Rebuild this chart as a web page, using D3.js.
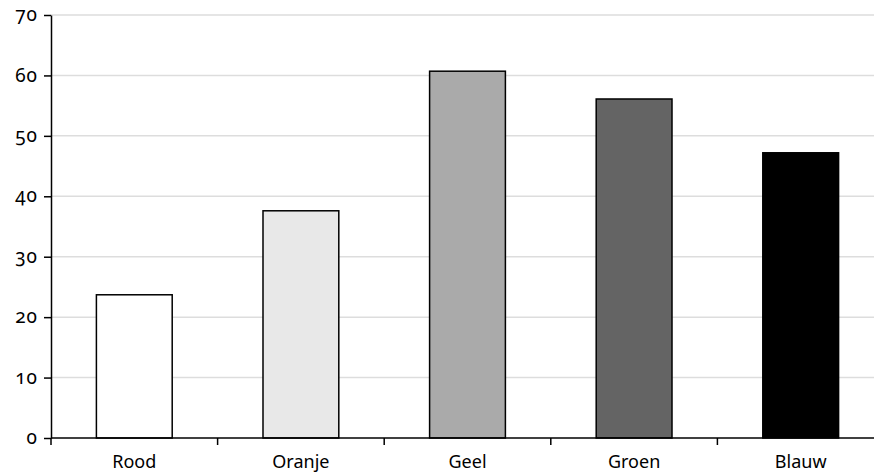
<!DOCTYPE html>
<html>
<head>
<meta charset="utf-8">
<script src="https://cdn.jsdelivr.net/npm/d3@7"></script>
<style>
  body { margin: 0; background: #fff; }
  svg text { font-family: "Noto Sans", "Open Sans", sans-serif; font-size: 18px; fill: #000; font-variant-numeric: oldstyle-nums; font-feature-settings: "onum"; }
</style>
</head>
<body>
<div id="chart"></div>
<script>
var categories = ["Rood", "Oranje", "Geel", "Groen", "Blauw"];
var values = [23.7, 37.6, 60.7, 56.1, 47.2];
var fills = ["#ffffff", "#e8e8e8", "#aaaaaa", "#646464", "#000000"];
var yTicks = [0, 10, 20, 30, 40, 50, 60, 70];

var margin = { top: 15, right: 0, bottom: 35, left: 51 };
var width = 833, height = 423;

var svg = d3
  .select("#chart")
  .append("svg")
  .attr("width", 874)
  .attr("height", 473)
  .append("g")
  .attr("transform", "translate(" + margin.left + "," + margin.top + ")");

var x = d3.scaleBand().domain(categories).range([0, width]).paddingInner(0.545).paddingOuter(0.2725);
var xAxisScale = d3.scaleBand().domain(categories).range([0, width]);
var y = d3.scaleLinear().domain([0, 70]).range([height, 0]);

// gridlines
svg.selectAll(".grid")
  .data(yTicks.slice(1))
  .enter()
  .append("line")
  .attr("x1", 0)
  .attr("x2", width)
  .attr("y1", function(d) { return y(d); })
  .attr("y2", function(d) { return y(d); })
  .attr("stroke", "#dddddd")
  .attr("stroke-width", 1.5);

// bars
svg.selectAll(".bar")
  .data(values)
  .enter()
  .append("rect")
  .attr("x", function(d, i) { return x(categories[i]); })
  .attr("width", x.bandwidth())
  .attr("y", function(d) { return y(d); })
  .attr("height", function(d) { return height - y(d); })
  .attr("fill", function(d, i) { return fills[i]; })
  .attr("stroke", "#000")
  .attr("stroke-width", 1.5);

// x axis: ticks at band edges
var xg = svg.append("g").attr("transform", "translate(0," + height + ")");
xg.append("line").attr("x1", 0).attr("x2", width).attr("stroke", "#000").attr("stroke-width", 1.5);
xg.selectAll(".xtick")
  .data(categories)
  .enter()
  .append("line")
  .attr("x1", function(d) { return xAxisScale(d); })
  .attr("x2", function(d) { return xAxisScale(d); })
  .attr("y1", 0)
  .attr("y2", 7)
  .attr("stroke", "#000")
  .attr("stroke-width", 1.5);
xg.selectAll(".xlabel")
  .data(categories)
  .enter()
  .append("text")
  .attr("x", function(d) { return xAxisScale(d) + xAxisScale.bandwidth() / 2; })
  .attr("y", 30)
  .attr("text-anchor", "middle")
  .text(function(d) { return d; });

// y axis
var yAxis = d3.axisLeft(y).tickValues(yTicks).tickSize(7).tickPadding(6).tickSizeOuter(0);
var yg = svg.append("g").call(yAxis);
yg.attr("font-size", null).attr("font-family", null);
yg.select(".domain").attr("stroke-width", 1.5);
yg.selectAll(".tick line").attr("stroke-width", 1.5);
yg.selectAll(".tick text")
  .attr("dy", "0.3em")
  .style("font-size", "19px")
  .style("letter-spacing", "1px");
</script>
</body>
</html>
